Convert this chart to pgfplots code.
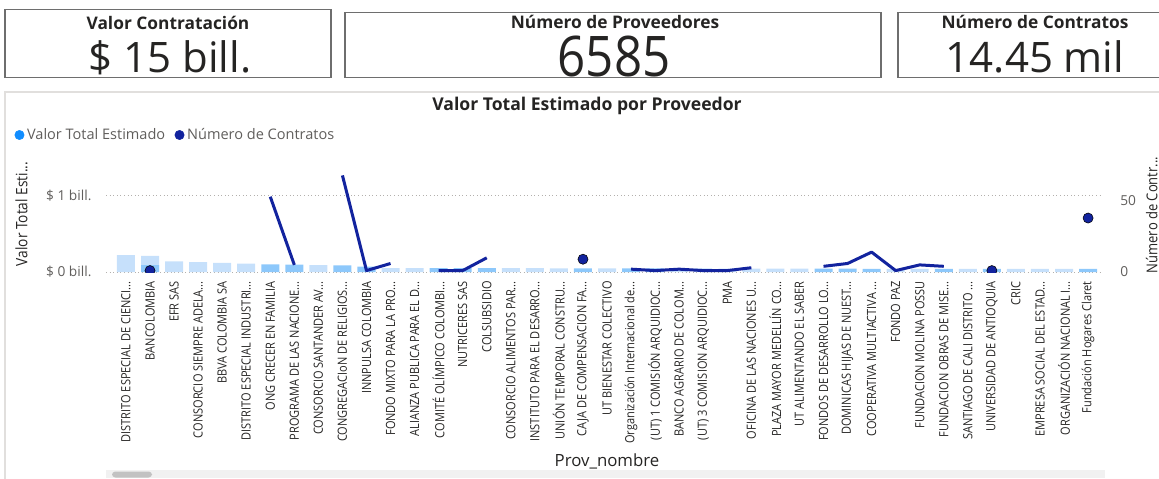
\documentclass[border=0pt]{standalone}
\usepackage{fontspec}
\setmainfont{Open Sans}
\newfontfamily\vfont{Open Sans}[FakeStretch=0.87]
\newfontfamily\numfont{Open Sans}[FakeStretch=0.88]
\usepackage{pgfplots}
\usepackage{pgfplotstable}
\pgfplotsset{compat=1.18}

\definecolor{cLight}{HTML}{C6E0FB}
\definecolor{cMed}{HTML}{8DC8FB}
\definecolor{cBlue}{HTML}{118DFF}
\definecolor{cNavy}{HTML}{12239E}
\definecolor{cTxt}{HTML}{252423}
\definecolor{cGray}{HTML}{605E5C}
\definecolor{cGrid}{HTML}{B3B0AD}
\definecolor{cBox}{HTML}{6E6E6E}
\definecolor{cPanel}{HTML}{E1DFDD}
\definecolor{cTrack}{HTML}{F1F1F1}
\definecolor{cThumb}{HTML}{C2C2C2}

\newcommand{\tr}{.{}.{}.}

% Valor Total Estimado (bill.), faded bars
\pgfplotstableread{
x v
0 0.22
1 0.21
2 0.14
3 0.13
4 0.12
5 0.11
8 0.09
11 0.052
12 0.051
16 0.049
17 0.049
18 0.048
20 0.047
23 0.046
24 0.046
25 0.045
26 0.045
27 0.044
28 0.044
32 0.042
33 0.042
35 0.041
37 0.041
38 0.040
39 0.040
}\valorfaded

% Valor Total Estimado (bill.), highlighted bars
\pgfplotstableread{
x v
1 0.09
6 0.10
7 0.095
9 0.085
10 0.07
13 0.051
14 0.050
15 0.050
19 0.048
21 0.047
22 0.047
29 0.043
30 0.043
31 0.042
34 0.042
36 0.041
40 0.040
}\valorhl

% Numero de Contratos, nan where the line breaks
\pgfplotstableread{
x n
6 53
7 5
8 nan
9 68
10 1
11 6
12 nan
13 1
14 1
15 10
16 nan
21 2
22 1
23 2
24 1
25 1
26 3
27 nan
29 4
30 6
31 14
32 1
33 5
34 4
}\contratos

% single points with no neighbours
\pgfplotstableread{
x n
1 1
19 9
36 1
40 38
}\contratossolos

\begin{document}
\begin{tikzpicture}
\path[use as bounding box] (0pt,0pt) rectangle (869.25pt,-358.5pt);

\begin{scope}[x=0.75pt,y=-0.75pt]
  % cards
  \draw[cBox, line width=0.9pt] (5,9.5) rectangle (331,77.7);
  \draw[cBox, line width=0.9pt] (345,12.7) rectangle (881,77.3);
  \draw[cBox, line width=0.9pt] (898,12.7) rectangle (1175,77.3);
  \node[anchor=base, text=cTxt, font=\bfseries\fontsize{13}{14}\selectfont] at (168,29.3) {Valor Contratación};
  \node[anchor=base, text=cTxt, font=\bfseries\fontsize{13}{14}\selectfont] at (615,28.5) {Número de Proveedores};
  \node[anchor=base, text=cTxt, font=\bfseries\fontsize{13}{14}\selectfont] at (1035,28.5) {Número de Contratos};
  \node[anchor=base, text=cTxt, font=\fontsize{31.5}{32}\selectfont] at (170,72.7) {\$ 15 bill.};
  \node[anchor=base, text=cTxt, font=\numfont\fontsize{42}{42}\selectfont] at (614,76.5) {6585};
  \node[anchor=base, text=cTxt, font=\fontsize{31.5}{32}\selectfont] at (1035,72.7) {14.45 mil};
  % chart panel
  \draw[cPanel, line width=1.5pt] (5,490) -- (5,91.5) -- (1175,91.5);
  \node[anchor=base, text=cTxt, font=\bfseries\fontsize{13.2}{14}\selectfont] at (587,110) {Valor Total Estimado por Proveedor};
  % scroll bar
  \fill[cTrack] (106,470) rectangle (1105,478);
  \fill[cThumb, rounded corners=2.5] (112,471.5) rectangle (152,477.5);
\end{scope}

\begin{axis}[
  at={(79.5pt,-204pt)}, anchor=south west,
  scale only axis, width=747.75pt, height=91.5pt,
  xmin=-0.83, xmax=40.62, ymin=0, ymax=1.59,
  axis line style={draw=none}, major tick length=0pt,
  ytick={0,1}, yticklabels={\$ 0 bill., \$ 1 bill.},
  ymajorgrids, grid style={cGrid, line width=0.7pt, dash pattern=on 0.7pt off 2pt},
  yticklabel style={font=\fontsize{10.3}{11}\selectfont, text=cGray, anchor=east, inner sep=0pt},
  yticklabel shift=10.7pt,
  xtick={0,...,40},
  xticklabels={
    {DISTRITO ESPECIAL DE CIENCI\tr},
    {BANCOLOMBIA},
    {EFR SAS},
    {CONSORCIO SIEMPRE ADELA\tr},
    {BBVA COLOMBIA SA},
    {DISTRITO ESPECIAL INDUSTRI\tr},
    {ONG CRECER EN FAMILIA},
    {PROGRAMA DE LAS NACIONE\tr},
    {CONSORCIO SANTANDER AV\tr},
    {CONGREGACIoN DE RELIGIOS\tr},
    {INNPULSA COLOMBIA},
    {FONDO MIXTO PARA LA PRO\tr},
    {ALIANZA PUBLICA PARA EL D\tr},
    {COMITÉ OLÍMPICO COLOMBI\tr},
    {NUTRICERES SAS},
    {COLSUBSIDIO},
    {CONSORCIO ALIMENTOS PAR\tr},
    {INSTITUTO PARA EL DESARRO\tr},
    {UNIÓN TEMPORAL CONSTRU\tr},
    {CAJA DE COMPENSACION FA\tr},
    {UT BIENESTAR COLECTIVO},
    {Organización Internacional de\tr},
    {(UT) 1 COMISIÓN ARQUIDIOC\tr},
    {BANCO AGRARIO DE COLOM\tr},
    {(UT) 3 COMISION ARQUIDIOC\tr},
    {PMA},
    {OFICINA DE LAS NACIONES U\tr},
    {PLAZA MAYOR MEDELLÍN CO\tr},
    {UT ALIMENTANDO EL SABER},
    {FONDOS DE DESARROLLO LO\tr},
    {DOMINICAS HIJAS DE NUEST\tr},
    {COOPERATIVA MULTIACTIVA \tr},
    {FONDO PAZ},
    {FUNDACION MOLINA POSSU},
    {FUNDACION OBRAS DE MISE\tr},
    {SANTIAGO DE CALI DISTRITO \tr},
    {UNIVERSIDAD DE ANTIOQUIA},
    {CRIC},
    {EMPRESA SOCIAL DEL ESTAD\tr},
    {ORGANIZACIÓN NACIONAL I\tr},
    {Fundación Hogares Claret}},
  xticklabel style={font=\vfont\fontsize{9.5}{10}\selectfont, text=cTxt, rotate=90, anchor=east, inner sep=0pt},
  xticklabel shift=6.75pt,
  xlabel={Prov\_nombre},
  xlabel style={at={(axis description cs:0.5025,-1.555)}, anchor=center, font=\fontsize{12.6}{13}\selectfont, text=cTxt},
  ylabel={Valor Total Esti\tr},
  ylabel style={at={(axis description cs:-0.0848,0.475)}, anchor=center, font=\vfont\fontsize{11.8}{12}\selectfont, text=cTxt},
  legend style={at={(axis description cs:-0.092,1.123)}, anchor=west, draw=none, fill=none,
    legend columns=-1, font=\fontsize{10.9}{11}\selectfont, text=cGray, inner sep=0pt,
    /tikz/every even column/.append style={column sep=5pt}},
]
\addlegendimage{legend image code/.code={\fill[cBlue] (3.5pt,0pt) circle (3.5pt);}}
\addlegendentry{Valor Total Estimado}
\addlegendimage{legend image code/.code={\fill[cNavy] (3.5pt,0pt) circle (3.5pt);}}
\addlegendentry{Número de Contratos}
\addplot[ybar, bar width=13.5pt, bar shift=0pt, fill=cLight, draw=none, forget plot] table[x=x, y=v] {\valorfaded};
\addplot[ybar, bar width=13.5pt, bar shift=0pt, fill=cMed, draw=none, forget plot] table[x=x, y=v] {\valorhl};
\end{axis}

\begin{axis}[
  at={(79.5pt,-204pt)}, anchor=south west,
  scale only axis, width=747.75pt, height=91.5pt,
  xmin=-0.83, xmax=40.62, ymin=0, ymax=85.9,
  axis x line=none, axis y line*=right, axis line style={draw=none}, major tick length=0pt,
  ytick={0,50}, yticklabels={0,50},
  yticklabel style={font=\fontsize{10.3}{11}\selectfont, text=cGray, anchor=west, inner sep=0pt},
  yticklabel shift=12.75pt,
  ylabel={Número de Contr\tr},
  ylabel style={at={(axis description cs:1.049,0.467)}, anchor=center, font=\vfont\fontsize{11.2}{12}\selectfont, text=cTxt},
  unbounded coords=jump, clip marker paths=true,
]
\addplot[cNavy, line width=2.25pt, line join=round, mark=none] table[x=x, y=n] {\contratos};
\addplot[only marks, mark=*, mark size=3.8pt, mark options={draw=none, fill=cNavy}] table[x=x, y=n] {\contratossolos};
\end{axis}
\end{tikzpicture}
\end{document}
